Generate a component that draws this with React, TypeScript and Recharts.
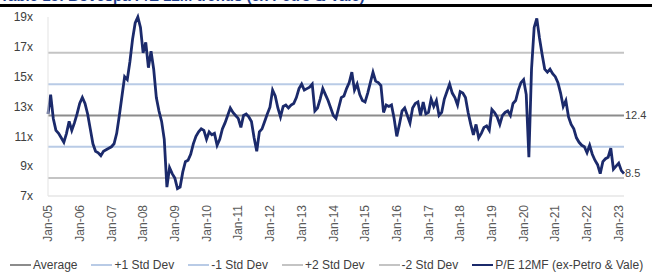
import React from 'react';
import { LineChart, Line, XAxis, YAxis, Legend } from 'recharts';

// P/E 12MF (ex-Petro & Vale), monthly, Jan-05 .. Mar-23
const pe2005 = [12.5, 13.8, 12.2, 11.4, 11.2, 10.9, 10.6, 11.2, 12.0, 11.4, 11.9, 12.5];
const pe2006 = [13.2, 13.6, 13.2, 12.5, 11.5, 10.5, 10.0, 9.9, 9.7, 10.0, 10.1, 10.2];
const pe2007 = [10.3, 10.5, 11.2, 12.4, 13.7, 15.0, 14.8, 16.0, 17.5, 18.6, 19.0, 18.3];
const pe2008 = [16.6, 17.3, 15.6, 16.7, 15.5, 13.6, 12.7, 12.0, 10.8, 7.6, 8.9, 8.5];
const pe2009 = [8.2, 7.5, 7.6, 8.6, 9.3, 9.4, 9.8, 10.5, 11.0, 11.3, 11.5, 11.4];
const pe2010 = [10.8, 11.3, 11.1, 11.2, 10.4, 10.8, 11.5, 11.9, 12.4, 12.9, 12.6, 12.4];
const pe2011 = [12.2, 11.6, 12.4, 12.5, 12.3, 12.0, 10.9, 10.0, 11.3, 11.5, 12.0, 12.5];
const pe2012 = [12.95, 14.1, 13.7, 12.9, 12.3, 13.0, 13.1, 12.9, 13.1, 13.2, 13.6, 14.2];
const pe2013 = [14.5, 14.1, 14.2, 14.3, 14.5, 12.7, 12.9, 13.5, 14.2, 13.8, 13.4, 12.9];
const pe2014 = [12.4, 12.2, 12.9, 13.6, 13.7, 14.2, 14.6, 15.3, 14.1, 14.5, 13.8, 13.4];
const pe2015 = [13.3, 13.9, 14.6, 15.3, 14.7, 14.6, 14.4, 12.6, 13.1, 13.0, 13.1, 12.2];
const pe2016 = [11.0, 11.8, 12.7, 12.9, 12.4, 11.9, 12.9, 13.2, 13.3, 12.4, 13.3, 12.5];
const pe2017 = [12.6, 13.5, 13.0, 13.4, 12.4, 12.6, 13.5, 14.0, 14.5, 13.9, 13.6, 13.1];
const pe2018 = [14.0, 13.9, 13.6, 12.6, 11.8, 11.1, 11.8, 10.9, 11.2, 11.6, 11.7, 11.4];
const pe2019 = [12.8, 12.6, 12.3, 11.8, 12.4, 12.6, 12.7, 12.4, 13.2, 13.4, 14.1, 14.6];
const pe2020 = [14.8, 13.8, 9.6, 15.5, 18.3, 18.9, 17.6, 16.5, 15.5, 15.3, 15.5, 15.2];
const pe2021 = [15.0, 14.6, 13.9, 13.0, 13.4, 12.3, 11.8, 11.5, 10.9, 10.6, 10.4, 10.3];
const pe2022 = [9.9, 10.4, 9.8, 9.4, 9.1, 8.5, 9.3, 9.5, 9.6, 10.2, 8.8, 9.0];
const pe2023 = [9.2, 8.7, 8.5];

const peValues = [
  ...pe2005, ...pe2006, ...pe2007, ...pe2008, ...pe2009, ...pe2010, ...pe2011,
  ...pe2012, ...pe2013, ...pe2014, ...pe2015, ...pe2016, ...pe2017, ...pe2018,
  ...pe2019, ...pe2020, ...pe2021, ...pe2022, ...pe2023,
];

const monthNames = ['Jan', 'Feb', 'Mar', 'Apr', 'May', 'Jun', 'Jul', 'Aug', 'Sep', 'Oct', 'Nov', 'Dec'];
const startYear = 2005;

// average and standard deviation bands
const statKeys = ['avg', 'plus1', 'minus1', 'plus2', 'minus2'];
const statNames = ['Average', '+1 Std Dev', '-1 Std Dev', '+2 Std Dev', '-2 Std Dev'];
const statValues = [12.4, 14.5, 10.3, 16.6, 8.2];

const yTicks = [7, 9, 11, 13, 15, 17, 19];

const statColors = ['#8c8c8c', '#b9cbe6', '#b9cbe6', '#c4c4c4', '#c4c4c4'];
const peColor = '#1b2a6b';
const peName = 'P/E 12MF (ex-Petro & Vale)';

const data = peValues.map((pe, i) => {
  const yr = startYear + Math.floor(i / 12);
  const row: Record<string, number | string> = {
    date: `${monthNames[i % 12]}-${String(yr % 100).padStart(2, '0')}`,
    pe,
  };
  statKeys.forEach((k, j) => (row[k] = statValues[j]));
  return row;
});

const lastIdx = data.length - 1;
const FONT = '"Liberation Sans", Arial, sans-serif';

const XTick = (props: any) => {
  const { x, y, payload } = props;
  return (
    <text
      x={x}
      y={y}
      dy="0.35em"
      transform={`rotate(-90, ${x}, ${y})`}
      textAnchor="end"
      fontSize={12}
      fontFamily={FONT}
      fill="#595959"
    >
      {payload.value}
    </text>
  );
};

const endLabel = (text: string) => (props: any) => {
  const { x, y, index } = props;
  if (index !== lastIdx) return null;
  return (
    <text x={x + 1} y={y} dy="0.35em" fontSize={11} fontFamily={FONT} fill="#404040">
      {text}
    </text>
  );
};

const LegendRow = () => {
  const items = [
    ...statNames.map((n, i) => ({ name: n, color: statColors[i], w: 1.5 })),
    { name: peName, color: peColor, w: 2.5 },
  ];
  return (
    <div style={{ display: 'flex', alignItems: 'center', fontFamily: FONT, fontSize: 12, color: '#404040', height: 20, paddingLeft: 10, whiteSpace: 'nowrap', width: 652, boxSizing: 'border-box' }}>
      {items.map((it) => (
        <div key={it.name} style={{ display: 'flex', alignItems: 'center', marginRight: 14, flexShrink: 0 }}>
          <span style={{ display: 'inline-block', width: 21, height: it.w, background: it.color, marginRight: 2 }} />
          <span>{it.name}</span>
        </div>
      ))}
    </div>
  );
};

export default function App() {
  return (
    <div style={{ position: 'absolute', left: 0, top: 0, width: 652, height: 275, background: '#fff', overflow: 'hidden' }}>
      <div style={{ position: 'absolute', left: 0, top: 0, width: 652, height: 4, overflow: 'hidden' }}>
        <div style={{ position: 'absolute', left: 0, top: -13, fontFamily: FONT, fontWeight: 700, fontSize: 15, color: '#1f3f8f', whiteSpace: 'nowrap' }}>
          Table 15: Bovespa P/E 12M trends (ex Petro &amp; Vale)
        </div>
      </div>
      <div style={{ position: 'absolute', left: 0, top: 4, width: 652, height: 3, background: '#000' }} />
      <div style={{ position: 'absolute', left: 0, top: 0 }}>
        <LineChart width={652} height={275} data={data} margin={{ top: 17, right: 28, left: 0, bottom: 0 }}>
          <XAxis
            dataKey="date"
            interval={11}
            tick={<XTick />}
            tickLine={false}
            tickSize={0}
            tickMargin={9}
            height={59}
            axisLine={{ stroke: '#d9d9d9' }}
          />
          <YAxis
            domain={[7, 19]}
            ticks={yTicks}
            interval={0}
            width={48}
            tickLine={false}
            tickSize={0}
            tickMargin={15}
            axisLine={{ stroke: '#e3e3e3' }}
            tickFormatter={(v: number) => `${v}x`}
            tick={{ fontSize: 12, fontFamily: FONT, fill: '#404040' }}
          />
          <Legend
            verticalAlign="bottom"
            content={<LegendRow />}
            wrapperStyle={{ left: 0, width: 652, height: 20 }}
          />
          {statKeys.map((k, i) => (
            <Line
              key={k}
              type="linear"
              dataKey={k}
              name={statNames[i]}
              stroke={statColors[i]}
              strokeWidth={2}
              dot={false}
              isAnimationActive={false}
              label={k === 'avg' ? endLabel(String(statValues[i])) : undefined}
            />
          ))}
          <Line
            type="linear"
            dataKey="pe"
            name={peName}
            stroke={peColor}
            strokeWidth={2.8}
            dot={false}
            isAnimationActive={false}
            label={endLabel(String(peValues[lastIdx]))}
          />
        </LineChart>
      </div>
    </div>
  );
}
